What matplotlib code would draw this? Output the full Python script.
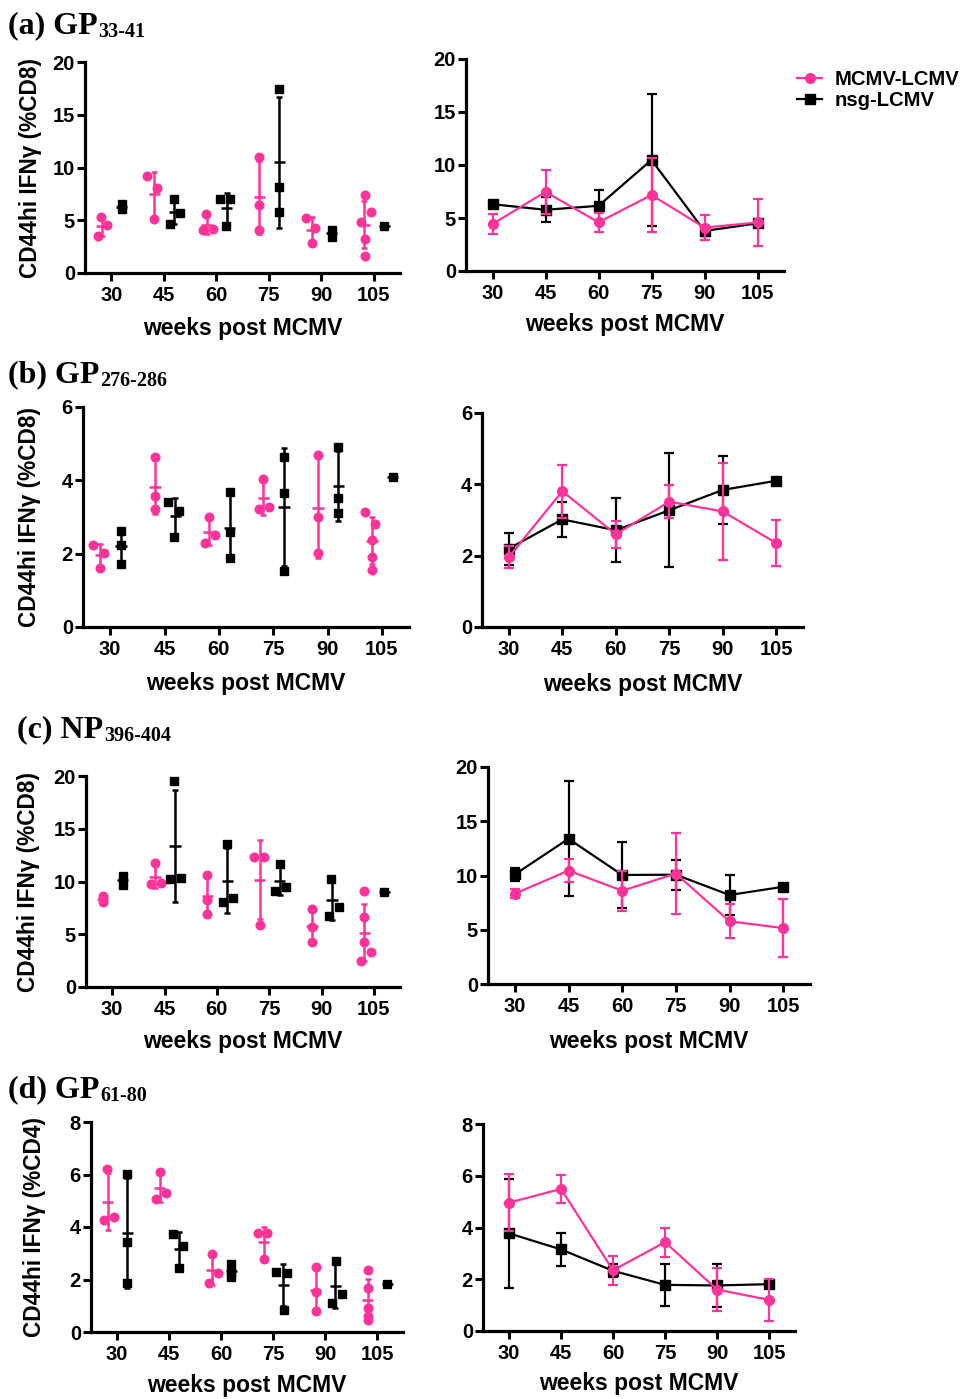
import matplotlib
matplotlib.use('Agg')
import matplotlib.pyplot as plt
import matplotlib.transforms as mtransforms
from matplotlib.lines import Line2D
import numpy as np

plt.rcParams['font.family'] = ['Liberation Sans', 'DejaVu Sans']
plt.rcParams['font.weight'] = 'bold'

weeks = [30, 45, 60, 75, 90, 105]
tick_labels = ['30', '45', '60', '75', '90', '105']
series_names = ['MCMV-LCMV', 'nsg-LCMV']
xlabel_text = 'weeks post MCMV'

# ---- panel (a) GP33-41 ----
a_mcmv = [[3.46, 5.29, 4.54], [9.23, 8.03, 5.13], [5.6, 4.03, 4.16],
          [10.96, 6.46, 4.09], [5.2, 4.25, 2.83], [7.4, 5.76, 4.88, 3.21, 1.64]]
a_nsg = [[6.1, 6.5], [6.99, 4.66, 5.67], [6.99, 6.99, 4.47],
         [17.48, 8.19, 5.76], [4.1, 3.45], [4.5]]
# ---- panel (b) GP276-286 ----
b_mcmv = [[2.23, 2.03, 1.61], [4.63, 3.58, 3.21], [3.01, 2.51, 2.28],
          [4.04, 3.22, 3.28], [4.7, 3.01, 2.01], [3.13, 2.81, 2.37, 1.91, 1.55]]
b_nsg = [[2.63, 2.23, 1.73], [3.42, 3.17, 2.46], [3.67, 2.58, 1.89],
         [4.65, 3.65, 1.52], [4.92, 3.51, 3.1], [4.1]]
# ---- panel (c) NP396-404 ----
c_mcmv = [[8.6, 8.05], [11.71, 9.75, 9.9], [10.6, 8.23, 6.96],
          [12.34, 12.34, 5.85], [7.37, 5.7, 4.27], [9.08, 6.65, 4.27, 3.32, 2.47]]
c_nsg = [[10.5, 9.7], [19.53, 10.28, 10.35], [13.6, 8.07, 8.48],
         [11.65, 9.08, 9.49], [10.28, 6.74, 7.59], [8.96]]
# ---- panel (d) GP61-80 ----
d_mcmv = [[6.22, 4.39, 4.27], [6.11, 5.29, 5.07], [2.96, 2.23, 1.85],
          [3.76, 3.76, 2.78], [2.48, 1.53, 0.8], [2.36, 1.68, 0.92, 0.61, 0.45]]
d_nsg = [[6.03, 3.44, 1.85], [3.72, 3.29, 2.45], [2.59, 2.29, 2.1],
         [2.27, 2.23, 0.85], [2.7, 1.12, 1.46], [1.81]]

# horizontal scatter spread of points (style, weeks)
a_mcmv_jit = [[-1.1, -0.2, 1.5], [-2.0, 0.9, -0.2], [-0.1, -1.0, 1.8], [0, 0, 0], [-1.7, 1.0, 0], [0.3, 1.9, -1.0, 0.3, 0.3]]
a_nsg_jit = [[0, 0], [-0.1, -1.3, 1.7], [-2.0, 0.9, -0.1], [0, 0, 0], [0, 0], [0]]
b_mcmv_jit = [[-2.1, 0.9, -0.2], [0, 0, 0], [-0.1, 1.7, -1.0], [0, -1.1, 1.6], [0, 0, 0], [-2.0, 0.9, 0, 0, 0]]
b_nsg_jit = [[0, 0, 0], [-2.0, 0.9, -0.3], [0, 0, 0], [0, 0, 0], [0, 0, 0], [0]]
c_mcmv_jit = [[0, 0], [-0.1, -1.3, 1.7], [0, 0, 0], [-1.7, 1.2, 0], [0, 0, 0], [0, 0, 0, 1.9, -1.0]]
c_nsg_jit = [[0, 0], [-0.3, -1.5, 1.8], [-0.1, -1.2, 1.6], [0, -1.2, 1.7], [-0.2, -0.9, 2.0], [0]]
d_mcmv_jit = [[-0.1, 1.7, -1.0], [0, 1.7, -1.0], [0.1, 1.8, -0.9], [-1.7, 1.0, 0.1], [0, 0, 0], [0, 0, 0, 0, 0]]
d_nsg_jit = [[0, 0, 0], [-1.9, 1.0, -0.1], [0, 0, 0], [-2.1, 1.1, 0.1], [0.2, -0.9, 1.8], [0]]

PINK = '#FF3399'
BLACK = '#000000'
W, H = 967, 1399

fig = plt.figure(figsize=(W / 100, H / 100), dpi=100)


def px_axes(x0, x1, ytop, ybot):
    return fig.add_axes([x0 / W, 1 - ybot / H, (x1 - x0) / W, (ybot - ytop) / H])


def style(ax, ymax, ystep):
    for s in ['top', 'right']:
        ax.spines[s].set_visible(False)
    for s in ['left', 'bottom']:
        ax.spines[s].set_linewidth(2.3)
    ax.set_xlim(22.5, 112.5)
    ax.set_ylim(0, ymax)
    ax.set_xticks(weeks)
    ax.set_xticklabels(tick_labels)
    ax.set_yticks(np.arange(0, ymax + 0.01, ystep))
    ax.tick_params(axis='both', length=6, width=2.2, labelsize=14.5)
    ax.tick_params(axis='x', pad=3.5)
    ax.tick_params(axis='y', pad=1.2)
    for lab in ax.get_xticklabels() + ax.get_yticklabels():
        lab.set_fontweight('bold')


def set_xlabel_px(ax, ytop_px):
    ax.set_xlabel(xlabel_text, fontsize=16.5, fontweight='bold')
    tr = mtransforms.blended_transform_factory(ax.transAxes, fig.transFigure)
    ax.xaxis.set_label_coords(0.5, 1 - ytop_px / H, transform=tr)


def set_ylabel_px(ax, text, xright_px):
    ax.set_ylabel(text, fontsize=16.3, fontweight='bold')
    tr = mtransforms.blended_transform_factory(fig.transFigure, ax.transAxes)
    ax.yaxis.set_label_coords(xright_px / W, 0.5, transform=tr)


def scatter_panel(ax, mcmv, nsg, mj, nj):
    groups = [(mcmv, mj, PINK, 'o', -2.7), (nsg, nj, BLACK, 's', 3.0)]
    for vals_all, jit_all, col, mk, off in groups:
        for wk, vals, jit in zip(weeks, vals_all, jit_all):
            c = wk + off
            v = np.array(vals)
            ax.plot(c + np.array(jit), v, ls='none', marker=mk, ms=6.2, color=col,
                    mec=col, clip_on=False, zorder=3)
            m = v.mean()
            ax.hlines(m, c - 1.6, c + 1.6, color=col, lw=1.8, zorder=4)
            if len(v) > 1:
                sd = v.std(ddof=1)
                ax.errorbar(c, m, yerr=sd, fmt='none', ecolor=col, elinewidth=1.8,
                            capsize=2.4, capthick=1.8, zorder=4)


def line_panel(ax, mcmv, nsg):
    out = []
    for vals_all, col, mk, z in [(nsg, BLACK, 's', 3), (mcmv, PINK, 'o', 4)]:
        means = np.array([np.mean(v) for v in vals_all])
        sds = np.array([np.std(v, ddof=1) if len(v) > 1 else 0.0 for v in vals_all])
        ax.errorbar(weeks, means, yerr=sds, color=col, lw=1.6, marker=mk, ms=7,
                    elinewidth=1.6, capsize=3.3, capthick=1.6, zorder=z, clip_on=False)
        out.append(Line2D([0], [0], color=col, lw=1.6, marker=mk, ms=7))
    return out[::-1]


def title(x_px, base_px, head, sub):
    t = fig.text(x_px / W, 1 - base_px / H, head,
                 family='Liberation Serif', fontweight='bold', fontsize=23, va='baseline')
    fig.text(0, 0, '')
    plt.annotate(sub, xy=(1, 0), xycoords=t, xytext=(0.5, -1.5), textcoords='offset points',
                 family='Liberation Serif', fontweight='bold', fontsize=14.5,
                 va='bottom', ha='left', annotation_clip=False)


# ---------------- panel (a) ----------------
ax = px_axes(85, 400, 62, 273)
style(ax, 20, 5)
scatter_panel(ax, a_mcmv, a_nsg, a_mcmv_jit, a_nsg_jit)
set_xlabel_px(ax, 317)
set_ylabel_px(ax, 'CD44hi IFNγ (%CD8)', 42)

ax = px_axes(466, 784, 59, 271)
style(ax, 20, 5)
handles = line_panel(ax, a_mcmv, a_nsg)
set_xlabel_px(ax, 313)
fig.legend(handles, series_names, loc='upper left', bbox_to_anchor=(797 / W, 1 - 70 / H),
           frameon=False, borderpad=0, borderaxespad=0, handlelength=1.25, handletextpad=0.62,
           labelspacing=0.1, prop={'family': 'Liberation Sans', 'weight': 'bold', 'size': 14.6})

# ---------------- panel (b) ----------------
ax = px_axes(83, 409, 407, 627)
style(ax, 6, 2)
scatter_panel(ax, b_mcmv, b_nsg, b_mcmv_jit, b_nsg_jit)
set_xlabel_px(ax, 672)
set_ylabel_px(ax, 'CD44hi IFNγ (%CD8)', 41)

ax = px_axes(482, 803, 413, 627)
style(ax, 6, 2)
line_panel(ax, b_mcmv, b_nsg)
set_xlabel_px(ax, 673)

# ---------------- panel (c) ----------------
ax = px_axes(86, 400, 776, 987)
style(ax, 20, 5)
scatter_panel(ax, c_mcmv, c_nsg, c_mcmv_jit, c_nsg_jit)
set_xlabel_px(ax, 1030)
set_ylabel_px(ax, 'CD44hi IFNγ (%CD8)', 40)

ax = px_axes(488, 810, 767, 984)
style(ax, 20, 5)
line_panel(ax, c_mcmv, c_nsg)
set_xlabel_px(ax, 1030)

# ---------------- panel (d) ----------------
ax = px_axes(91, 403, 1122, 1332)
style(ax, 8, 2)
scatter_panel(ax, d_mcmv, d_nsg, d_mcmv_jit, d_nsg_jit)
set_xlabel_px(ax, 1374)
set_ylabel_px(ax, 'CD44hi IFNγ (%CD4)', 46)

ax = px_axes(483, 795, 1124, 1331)
style(ax, 8, 2)
line_panel(ax, d_mcmv, d_nsg)
set_xlabel_px(ax, 1372)

# ---------------- panel titles ----------------
title(8, 33, '(a) GP', '33-41')
title(8, 382, '(b) GP', '276-286')
title(17, 737, '(c) NP', '396-404')
title(8, 1097, '(d) GP', '61-80')

fig.savefig('out.png', dpi=100)
